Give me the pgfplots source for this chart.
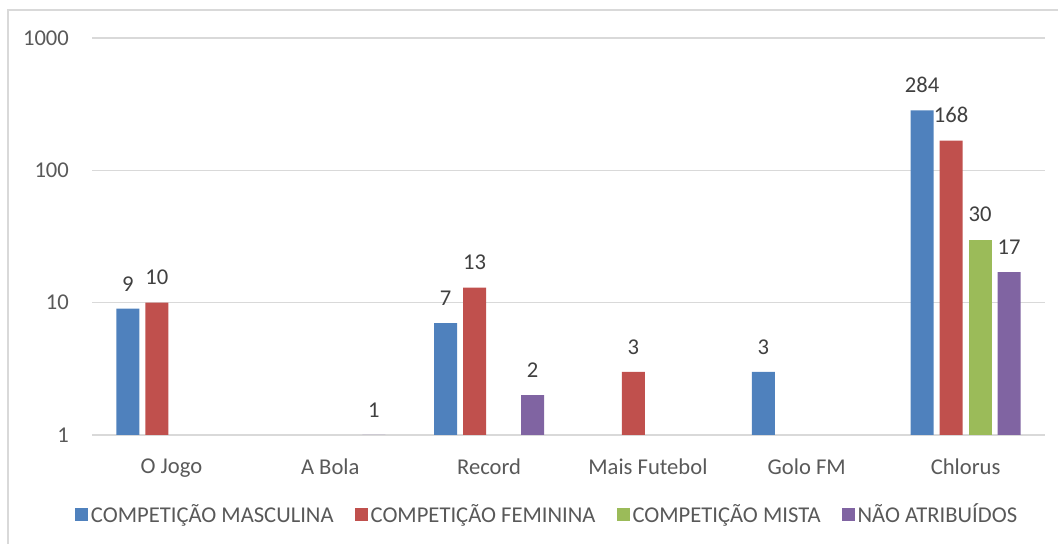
\documentclass[border=0pt,11pt]{standalone}
\usepackage{pgfplots}
\pgfplotsset{compat=1.18}
\usepackage{fontspec}
\setmainfont{Carlito}

\definecolor{cMasc}{HTML}{4F81BD}
\definecolor{cFem}{HTML}{C0504D}
\definecolor{cMista}{HTML}{9BBB59}
\definecolor{cNA}{HTML}{8064A2}
\definecolor{gridgray}{HTML}{D9D9D9}
\definecolor{txtgray}{HTML}{595959}
\definecolor{lblgray}{HTML}{404040}

\newcommand{\chartfont}{\fontsize{11.3}{13.5}\selectfont}

\pgfplotsset{
  sq legend/.style={legend image code/.code={\fill[##1] (0pt,-3.25pt) rectangle (6.5pt,3.25pt);}},
}

\begin{document}
\begin{tikzpicture}
\path[use as bounding box] (-46pt,-54.5pt) rectangle (483pt,217.5pt);
\draw[gridgray, line width=0.75pt] (-42pt,-80pt) rectangle (520pt,212.5pt);
\begin{axis}[
    at={(0,0)}, anchor=south west,
    scale only axis,
    width=476.5pt, height=198.5pt,
    ybar=3pt,
    bar width=11.5pt,
    ymode=log,
    ymin=1, ymax=1000,
    xmin=-0.5, xmax=5.5,
    ytick={1,10,100,1000},
    yticklabels={1,10,100,1000},
    xtick={0,1,2,3,4,5},
    xticklabels={O Jogo, A Bola, Record, Mais Futebol, Golo FM, Chlorus},
    major tick length=0pt,
    minor tick length=0pt,
    yminorticks=false,
    tick pos=left,
    axis line style={draw=none},
    ymajorgrids,
    grid style={gridgray, line width=0.75pt},
    tick label style={txtgray, font=\chartfont},
    yticklabel style={xshift=-7.7pt},
    xticklabel style={yshift=-8pt},
    point meta=explicit symbolic,
    nodes near coords={\pgfplotspointmeta},
    every node near coord/.append style={lblgray, font=\chartfont, yshift=5pt},
    legend columns=4,
    legend style={at={(0.478,0)}, anchor=center, yshift=-40pt, draw=none,
      text=txtgray, font=\chartfont,
      nodes={inner xsep=1.5pt},
      /tikz/every even column/.append style={column sep=9pt},
      /tikz/every odd column/.append style={column sep=0pt}},
    legend cell align=left,
]
\addplot[fill=cMasc, draw=none, sq legend] coordinates {(0,9) [9] (2,7) [7] (4,3) [3] (5,284) [284]};
\addplot[fill=cFem, draw=none, sq legend] coordinates {(0,10) [10] (2,13) [13] (3,3) [3] (5,168) [168]};
\addplot[fill=cMista, draw=none, sq legend] coordinates {(5,30) [30]};
\addplot[fill=cNA, draw=none, sq legend] coordinates {(1,1) [1] (2,2) [2] (5,17) [17]};
\legend{COMPETIÇÃO MASCULINA, COMPETIÇÃO FEMININA, COMPETIÇÃO MISTA, NÃO ATRIBUÍDOS}
\end{axis}
\end{tikzpicture}
\end{document}
